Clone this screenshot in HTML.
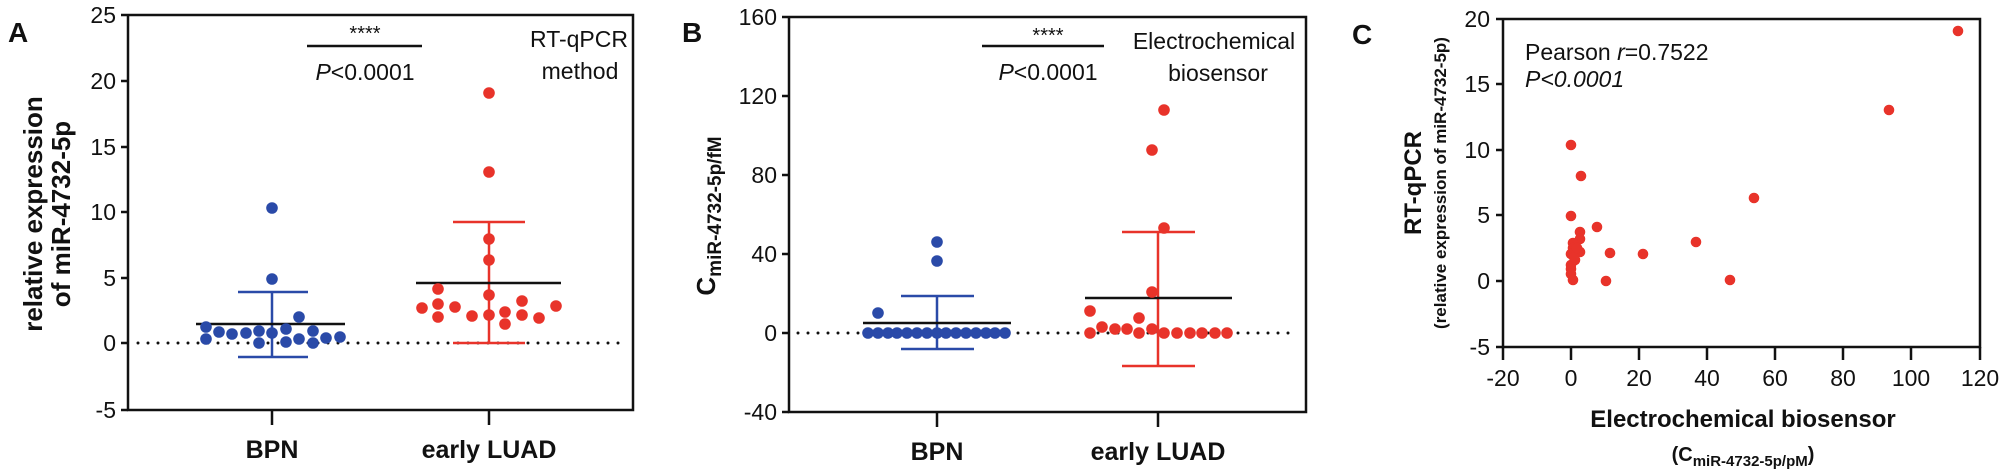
<!DOCTYPE html>
<html><head><meta charset="utf-8"><style>
html,body{margin:0;padding:0;background:#fff}
svg{display:block}
text{font-family:"Liberation Sans Narrow","Liberation Sans",sans-serif;fill:#111}
.b{font-family:"Liberation Sans",sans-serif;font-weight:bold}
</style></head><body>
<svg width="2005" height="474" viewBox="0 0 2005 474" xmlns="http://www.w3.org/2000/svg">
<g stroke="#111" stroke-width="2.5" fill="none">
<path d="M128 15V410H633V15H128"/>
<path d="M121 15H128M121 81H128M121 147H128M121 212H128M121 278H128M121 343H128M121 410H128"/>
<path d="M272 410V425M489 410V425"/>
<path d="M789 17V412H1306V17H789"/>
<path d="M782 17H789M782 96H789M782 175H789M782 254H789M782 333H789M782 412H789"/>
<path d="M937 412V427M1158 412V427"/>
<path d="M1503 19V347H1980V19H1503"/>
<path d="M1496 19H1503M1496 84H1503M1496 150H1503M1496 215H1503M1496 281H1503M1496 347H1503"/>
<path d="M1503 347V360M1571 347V360M1639 347V360M1707 347V360M1775 347V360M1843 347V360M1911 347V360M1980 347V360"/>
</g>
<g stroke="#111" stroke-width="3" stroke-linecap="round" stroke-dasharray="0 10">
<path d="M138 343H624"/><path d="M798 333H1298"/>
</g>
<g stroke="#111" stroke-width="2.5"><path d="M307 46H422M982 46H1104"/></g>
<g font-size="23" text-anchor="end">
<text x="116" y="23">25</text><text x="116" y="89">20</text><text x="116" y="155">15</text><text x="116" y="220">10</text><text x="116" y="286">5</text><text x="116" y="351">0</text><text x="116" y="418">-5</text>
<text x="777" y="25">160</text><text x="777" y="104">120</text><text x="777" y="183">80</text><text x="777" y="262">40</text><text x="777" y="341">0</text><text x="777" y="420">-40</text>
<text x="1490" y="27">20</text><text x="1490" y="92">15</text><text x="1490" y="158">10</text><text x="1490" y="223">5</text><text x="1490" y="289">0</text><text x="1490" y="355">-5</text>
</g>
<g font-size="23" text-anchor="middle">
<text x="1503" y="386">-20</text><text x="1571" y="386">0</text><text x="1639" y="386">20</text><text x="1707" y="386">40</text><text x="1775" y="386">60</text><text x="1843" y="386">80</text><text x="1911" y="386">100</text><text x="1980" y="386">120</text>
<text x="365" y="40" font-size="20">****</text>
<text x="365" y="80"><tspan font-style="italic">P</tspan>&lt;0.0001</text>
<text x="579" y="47">RT-qPCR</text><text x="580" y="79">method</text>
<text x="1048" y="42" font-size="20">****</text>
<text x="1048" y="80"><tspan font-style="italic">P</tspan>&lt;0.0001</text>
<text x="1214" y="49">Electrochemical</text><text x="1218" y="81">biosensor</text>
</g>
<g font-size="23"><text x="1525" y="60">Pearson <tspan font-style="italic">r</tspan>=0.7522</text>
<text x="1525" y="87" font-style="italic">P&lt;0.0001</text></g>
<g class="b" font-size="25" text-anchor="middle">
<text class="b" x="272" y="458">BPN</text><text class="b" x="489" y="458">early LUAD</text>
<text class="b" x="937" y="460">BPN</text><text class="b" x="1158" y="460">early LUAD</text>
<text class="b" x="1743" y="427" font-size="24">Electrochemical biosensor</text>
<text class="b" x="1743" y="461" font-size="20">(C<tspan font-size="15" dy="5">miR-4732-5p/pM</tspan><tspan dy="-5">)</tspan></text>
</g>
<g class="b" font-size="28"><text class="b" x="8" y="42">A</text><text class="b" x="682" y="42">B</text><text class="b" x="1352" y="44">C</text></g>
<text class="b" font-size="26" text-anchor="middle" transform="translate(42 214) rotate(-90)">relative expression</text>
<text class="b" font-size="26" text-anchor="middle" transform="translate(70 214) rotate(-90)">of miR-4732-5p</text>
<text class="b" font-size="26" text-anchor="middle" transform="translate(715 216) rotate(-90)">C<tspan font-size="19" dy="6">miR-4732-5p/fM</tspan></text>
<text class="b" font-size="24" text-anchor="middle" transform="translate(1421 183) rotate(-90)">RT-qPCR</text>
<text class="b" font-size="17" text-anchor="middle" transform="translate(1446 183) rotate(-90)">(relative expression of miR-4732-5p)</text>
<g stroke-width="2.5" fill="none">
<path stroke="#2a4aa8" d="M272 292V357M238 292H308M238 357H308"/>
<path stroke="#e8332a" d="M489 222V343M453 222H525M453 343H525"/>
<path stroke="#2a4aa8" d="M937 296V349M901 296H974M901 349H974"/>
<path stroke="#e8332a" d="M1158 232V366M1122 232H1195M1122 366H1195"/>
<path stroke="#111" d="M196 324H345M416 283H561M863 323H1011M1085 298H1232"/>
</g>
<g fill="#2a4aa8">
<circle cx="272" cy="208" r="5.8"/><circle cx="272" cy="279" r="5.8"/><circle cx="299" cy="317" r="5.8"/><circle cx="206" cy="327" r="5.8"/><circle cx="219" cy="332" r="5.8"/><circle cx="232" cy="334" r="5.8"/><circle cx="246" cy="333" r="5.8"/><circle cx="259" cy="331" r="5.8"/><circle cx="272" cy="333" r="5.8"/><circle cx="286" cy="329" r="5.8"/><circle cx="313" cy="331" r="5.8"/><circle cx="206" cy="339" r="5.8"/><circle cx="299" cy="339" r="5.8"/><circle cx="326" cy="338" r="5.8"/><circle cx="340" cy="337" r="5.8"/><circle cx="259" cy="343" r="5.8"/><circle cx="286" cy="342" r="5.8"/><circle cx="313" cy="343" r="5.8"/>
</g>
<g fill="#e8332a">
<circle cx="489" cy="93" r="5.8"/><circle cx="489" cy="172" r="5.8"/><circle cx="489" cy="239" r="5.8"/><circle cx="489" cy="260" r="5.8"/><circle cx="438" cy="289" r="5.8"/><circle cx="489" cy="295" r="5.8"/><circle cx="522" cy="301" r="5.8"/><circle cx="438" cy="304" r="5.8"/><circle cx="455" cy="307" r="5.8"/><circle cx="556" cy="306" r="5.8"/><circle cx="422" cy="308" r="5.8"/><circle cx="505" cy="312" r="5.8"/><circle cx="438" cy="317" r="5.8"/><circle cx="472" cy="316" r="5.8"/><circle cx="489" cy="315" r="5.8"/><circle cx="522" cy="315" r="5.8"/><circle cx="539" cy="318" r="5.8"/><circle cx="505" cy="324" r="5.8"/>
</g>
<g fill="#2a4aa8">
<circle cx="937" cy="242" r="5.8"/><circle cx="937" cy="261" r="5.8"/><circle cx="878" cy="313" r="5.8"/>
<circle cx="868" cy="333" r="5.8"/><circle cx="878" cy="333" r="5.8"/><circle cx="888" cy="333" r="5.8"/><circle cx="897" cy="333" r="5.8"/><circle cx="907" cy="333" r="5.8"/><circle cx="917" cy="333" r="5.8"/><circle cx="927" cy="333" r="5.8"/><circle cx="937" cy="333" r="5.8"/><circle cx="946" cy="333" r="5.8"/><circle cx="956" cy="333" r="5.8"/><circle cx="966" cy="333" r="5.8"/><circle cx="976" cy="333" r="5.8"/><circle cx="986" cy="333" r="5.8"/><circle cx="995" cy="333" r="5.8"/><circle cx="1005" cy="333" r="5.8"/>
</g>
<g fill="#e8332a">
<circle cx="1164" cy="110" r="5.8"/><circle cx="1152" cy="150" r="5.8"/><circle cx="1164" cy="228" r="5.8"/><circle cx="1152" cy="292" r="5.8"/><circle cx="1090" cy="311" r="5.8"/><circle cx="1139" cy="318" r="5.8"/><circle cx="1102" cy="327" r="5.8"/><circle cx="1115" cy="329" r="5.8"/><circle cx="1127" cy="329" r="5.8"/><circle cx="1152" cy="329" r="5.8"/>
<circle cx="1090" cy="333" r="5.8"/><circle cx="1139" cy="333" r="5.8"/><circle cx="1164" cy="333" r="5.8"/><circle cx="1177" cy="333" r="5.8"/><circle cx="1190" cy="333" r="5.8"/><circle cx="1202" cy="333" r="5.8"/><circle cx="1215" cy="333" r="5.8"/><circle cx="1227" cy="333" r="5.8"/>
</g>
<g fill="#e8332a">
<circle cx="1958" cy="31" r="5.3"/><circle cx="1889" cy="110" r="5.3"/><circle cx="1571" cy="145" r="5.3"/><circle cx="1581" cy="176" r="5.3"/><circle cx="1754" cy="198" r="5.3"/><circle cx="1571" cy="216" r="5.3"/><circle cx="1597" cy="227" r="5.3"/><circle cx="1580" cy="232" r="5.3"/><circle cx="1580" cy="239" r="5.3"/><circle cx="1696" cy="242" r="5.3"/><circle cx="1573" cy="243" r="5.3"/><circle cx="1573" cy="248" r="5.3"/><circle cx="1610" cy="253" r="5.3"/><circle cx="1643" cy="254" r="5.3"/><circle cx="1580" cy="252" r="5.3"/><circle cx="1571" cy="254" r="5.3"/><circle cx="1575" cy="260" r="5.3"/><circle cx="1571" cy="265" r="5.3"/><circle cx="1571" cy="269" r="5.3"/><circle cx="1571" cy="274" r="5.3"/><circle cx="1573" cy="280" r="5.3"/><circle cx="1606" cy="281" r="5.3"/><circle cx="1730" cy="280" r="5.3"/><circle cx="1574" cy="257" r="5.3"/><circle cx="1577" cy="248" r="5.3"/>
</g>
</svg>
</body></html>
